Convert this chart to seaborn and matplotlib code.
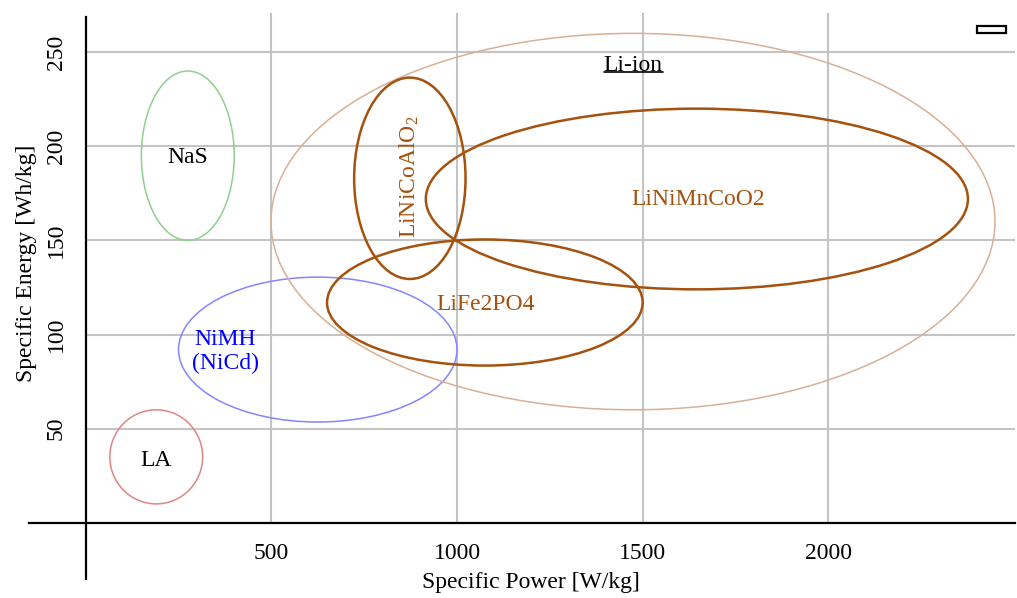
import matplotlib
matplotlib.use("Agg")
import matplotlib.pyplot as plt
from matplotlib.patches import Ellipse, Rectangle
import seaborn as sns

# battery technologies: ellipse centre / extent in (power, energy)
names = ["LA", "NiMH", "NaS", "Li-ion", "LiNiCoAlO2", "LiNiMnCoO2", "LiFe2PO4"]
power_center = [190, 625, 275, 1474, 873, 1646, 1075]
energy_center = [35, 92, 195, 160, 183, 172, 117]
power_span = [250, 750, 250, 1950, 300, 1460, 850]
energy_span = [50, 77, 90, 200, 107, 96, 67]
edge_colors = ["#e08585", "#8585ff", "#8fcf8f", "#d8b094", "#a4520e", "#a4520e", "#a4520e"]

# label texts and where they sit
label_texts = ["LA", "NiMH\n(NiCd)", "NaS", "Li-ion", "LiNiCoAlO$_2$", "LiNiMnCoO2", "LiFe2PO4"]
label_power = [190, 376, 275, 1474, 873, 1649, 1076]
label_energy = [33, 91, 194, 243, 184, 172, 116]
label_colors = ["black", "#0000ff", "black", "black", "#a4520e", "#a4520e", "#a4520e"]

x_ticks = [500, 1000, 1500, 2000]
y_ticks = [50, 100, 150, 200, 250]

sns.set_theme(style="white")
plt.rcParams["font.family"] = ["Liberation Serif", "DejaVu Serif"]
plt.rcParams["mathtext.fontset"] = "custom"
plt.rcParams["mathtext.rm"] = "Liberation Serif"
plt.rcParams["mathtext.it"] = "Liberation Serif:italic"

fs = 17
grid_color = "#c4c4c4"

fig = plt.figure(figsize=(10.17, 5.98), dpi=100)
ax = fig.add_axes([29 / 1017, 19 / 598, 986 / 1017, 562 / 598])
ax.set_xlim(-152.7, 2502.8)
ax.set_ylim(-29.9, 268.7)

# axes through the origin
sns.despine(ax=ax, top=True, right=True)
for side in ["left", "bottom"]:
    ax.spines[side].set_position(("data", 0))
    ax.spines[side].set_color("black")
    ax.spines[side].set_linewidth(1.6)
    ax.spines[side].set_zorder(3)

# grid lines
ax.vlines(x_ticks, 0, 270.8, color=grid_color, lw=1.5, zorder=1, clip_on=False)
ax.hlines(y_ticks, 0, 2502.8, color=grid_color, lw=1.5, zorder=1)

ax.set_xticks(x_ticks)
ax.set_yticks(y_ticks)
ax.tick_params(axis="both", direction="out", length=13.7, width=1.5,
               color=grid_color, labelsize=fs, labelcolor="black")
ax.tick_params(axis="x", pad=1)
ax.tick_params(axis="y", pad=0)
for lab in ax.get_yticklabels():
    lab.set_rotation(90)
    lab.set_va("center")
    lab.set_ha("right")

ax.set_xlabel("Specific Power [W/kg]", fontsize=fs, color="black")
ax.set_ylabel("Specific Energy [Wh/kg]", fontsize=fs, color="black")
ax.xaxis.set_label_coords(0.509, 0.0125)
ax.yaxis.set_label_coords(0.0081, 0.562)

# technology ellipses
for i, name in enumerate(names):
    lw = 1.8 if edge_colors[i] == "#a4520e" else 1.1
    ax.add_patch(Ellipse((power_center[i], energy_center[i]), power_span[i], energy_span[i],
                         fill=False, ec=edge_colors[i], lw=lw, zorder=2))

texts = {}
for i, name in enumerate(names):
    rot = 90 if name == "LiNiCoAlO2" else 0
    texts[name] = ax.text(label_power[i], label_energy[i], label_texts[i], color=label_colors[i],
                          fontsize=fs, ha="center", va="center", rotation=rot,
                          linespacing=1.15, zorder=4)

# underline under Li-ion
fig.canvas.draw()
bb = texts["Li-ion"].get_window_extent()
inv = ax.transData.inverted()
(ux0, uy0), (ux1, _) = inv.transform([[bb.x0, bb.y0 + 4], [bb.x1, bb.y0 + 4]])
ax.plot([ux0, ux1], [uy0, uy0], color="black", lw=1.2, zorder=4)

# small empty legend frame in the corner
ax.add_patch(Rectangle((0.9615, 0.9715), 0.0294, 0.0125, transform=ax.transAxes,
                       fill=False, ec="black", lw=1.6, clip_on=False, zorder=5))

fig.savefig("out.png", dpi=100)
